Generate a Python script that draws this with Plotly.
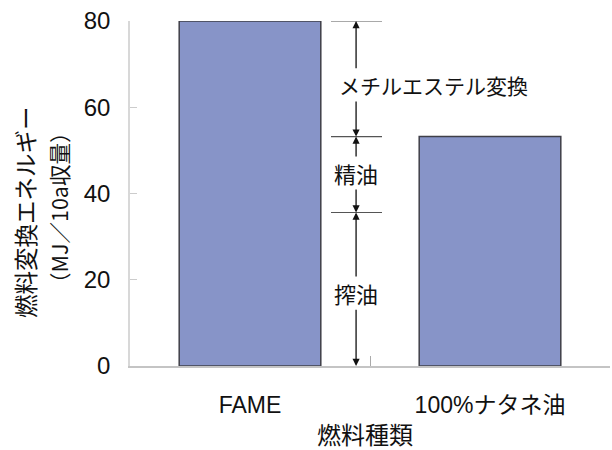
import plotly.graph_objects as go

# ---- data ----
categories = ["FAME", "100%ナタネ油"]
energy = [80.0, 53.2]                      # MJ / 10a yield
stage_labels = ["搾油", "精油", "メチルエステル変換"]
stage_tops = [35.6, 53.2, 80.0]            # cumulative energy at the end of each stage
y_ticks = [0, 20, 40, 60, 80]

LATIN = "Liberation Sans, Arial, Noto Sans CJK JP"
CJK = "Noto Sans CJK JP, Liberation Sans"

fig = go.Figure()
fig.add_trace(go.Bar(
    x=categories, y=energy, width=0.59,
    marker=dict(color="#8794C8", line=dict(color="#3f3f48", width=1.5)),
    showlegend=False, hoverinfo="skip",
))

# ---- stage dimension markers between the bars ----
arrow_x = 0.442
gap = 3.5
bottoms = [0.0] + stage_tops[:-1]
label_offsets = [-0.9, 0.35, -1.4]
for lab, lo, hi, off in zip(stage_labels, bottoms, stage_tops, label_offsets):
    mid = (lo + hi) / 2 + off
    fig.add_annotation(x=arrow_x, y=hi, ax=arrow_x, ay=mid + gap, xref="x", yref="y",
                       axref="x", ayref="y", text="", showarrow=True, arrowhead=2,
                       arrowsize=1.1, arrowwidth=1.3, arrowcolor="#111", standoff=0)
    fig.add_annotation(x=arrow_x, y=lo, ax=arrow_x, ay=mid - gap, xref="x", yref="y",
                       axref="x", ayref="y", text="", showarrow=True, arrowhead=2,
                       arrowsize=1.1, arrowwidth=1.3, arrowcolor="#111", standoff=0)
    if len(lab) > 2:
        fig.add_annotation(x=0.3625, y=mid, xref="x", yref="y", text=lab, showarrow=False,
                           xanchor="left", yanchor="middle",
                           font=dict(family=CJK, size=21, color="#111"))
    else:
        fig.add_annotation(x=arrow_x, y=mid, xref="x", yref="y", text=lab, showarrow=False,
                           xanchor="center", yanchor="middle",
                           font=dict(family=CJK, size=22, color="#111"))
    fig.add_shape(type="line", x0=0.3375, x1=0.55, y0=hi, y1=hi, xref="x", yref="y",
                  line=dict(color="#555", width=1.2))

# ---- axis titles (placed by pixel, converted to paper coords) ----
fig.add_annotation(x=25, y=212, xref="paper", yref="paper", text="燃料変換エネルギー",
                   textangle=-90, showarrow=False, xanchor="center", yanchor="middle",
                   font=dict(family=CJK, size=23.5, color="#111"))
fig.add_annotation(x=58, y=208, xref="paper", yref="paper", text="（MJ／10a収量）",
                   textangle=-90, showarrow=False, xanchor="center", yanchor="middle",
                   font=dict(family=CJK, size=21.5, color="#111"))
fig.add_annotation(x=365, y=434, xref="paper", yref="paper", text="燃料種類",
                   showarrow=False, xanchor="center", yanchor="middle",
                   font=dict(family=CJK, size=24, color="#111"))

W, H = 612, 450
ML, MR, MT, MB = 130, 2, 21, 84
for a in fig.layout.annotations[-3:]:
    a.x = (a.x - ML) / (W - ML - MR)
    a.y = 1 - (a.y - MT) / (H - MT - MB)

fig.update_layout(
    width=W, height=H,
    margin=dict(l=ML, r=MR, t=MT, b=MB, pad=0),
    paper_bgcolor="white", plot_bgcolor="white",
    bargap=0.41,
    xaxis=dict(
        type="category", categoryorder="array", categoryarray=categories,
        range=[-0.5, 1.5], tickson="boundaries", ticks="inside", ticklen=10,
        tickcolor="#aaa", tickwidth=1.2,
        showline=True, linecolor="#c4c4c4", linewidth=2, showgrid=False, zeroline=False,
        tickfont=dict(family=LATIN, size=23, color="#111"),
        ticklabelstandoff=17,
    ),
    yaxis=dict(
        range=[0, 80], tickvals=y_ticks, ticks="inside", ticklen=7, tickcolor="#ccc",
        tickwidth=1.2, showline=True, linecolor="#d8d8d8", linewidth=1.5,
        showgrid=False, zeroline=False,
        tickfont=dict(family=LATIN, size=24, color="#111"),
        ticklabelstandoff=13,
    ),
)

fig.write_html("out.html")
